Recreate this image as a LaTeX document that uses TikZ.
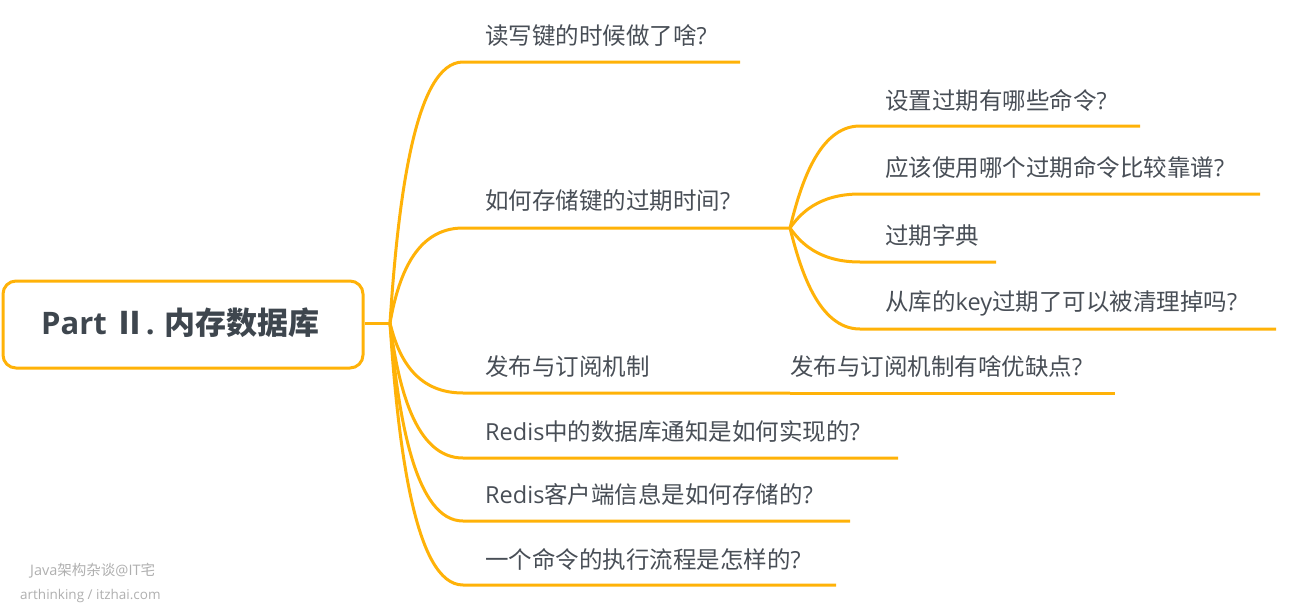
\documentclass[tikz,border=0pt]{standalone}
\usepackage{fontspec}
\setmainfont{Noto Sans CJK SC}
\newfontfamily\latf{Open Sans}
\newcommand\la[1]{{\latf #1}}
\definecolor{brc}{RGB}{255,178,8}
\definecolor{txc}{RGB}{72,78,86}
\definecolor{rootc}{RGB}{62,70,78}
\definecolor{wmc}{RGB}{175,175,175}
\tikzset{
  br/.style={draw=brc,line width=3pt},
  lbl/.style={anchor=west,inner sep=0pt,text=txc,font=\fontsize{23.5}{26}\selectfont},
  rootbox/.style={draw=brc,line width=3pt,rounded corners=13pt,minimum width=360pt,minimum height=87pt,inner sep=0pt},
  wm/.style={anchor=west,inner sep=0pt,text=wmc,font=\fontsize{13.5}{16}\selectfont}
}
\begin{document}
\begin{tikzpicture}[x=1pt,y=-1pt]
\useasboundingbox (0,0) rectangle (1302,608);
% root
\node[rootbox] (root) at (183,324.5) {};
\node[anchor=west,inner sep=0pt,text=rootc,font=\fontsize{31}{34}\selectfont\bfseries] (roottxt) at (41,323) {\la{Part }Ⅱ\la{.} 内存数据库};
\coordinate (hub) at (390,323);
\draw[br] (root.east |- hub) -- (hub);
% main labels
\node[lbl] (t1) at (485,36) {读写键的时候做了啥\la{?}};
\node[lbl] (t2) at (485,201) {如何存储键的过期时间\la{?}};
\node[lbl] (t3) at (485,367) {发布与订阅机制};
\node[lbl] (t4) at (485,432) {\la{Redis}中的数据库通知是如何实现的\la{?}};
\node[lbl] (t5) at (485,495) {\la{Redis}客户端信息是如何存储的\la{?}};
\node[lbl] (t6) at (485,559) {一个命令的执行流程是怎样的\la{?}};
% main underline coordinates
\coordinate (a1) at (463,62);   \coordinate (e1) at (740,62);
\coordinate (a2) at (463,228);  \coordinate (sub) at (790,228);
\coordinate (a3) at (463,393);  \coordinate (e3) at (790,393);
\coordinate (a4) at (463,458);  \coordinate (e4) at (898,458);
\coordinate (a5) at (463,521);  \coordinate (e5) at (850,521);
\coordinate (a6) at (463,585);  \coordinate (e6) at (836,585);
% main branches
\draw[br] (hub) .. controls (398,200) and (415,62) .. (a1) -- (e1);
\draw[br] (hub) .. controls (398,278) and (415,228) .. (a2) -- (sub);
\draw[br] (hub) .. controls (398,356) and (415,393) .. (a3) -- (e3);
\draw[br] (hub) .. controls (398,386) and (415,458) .. (a4) -- (e4);
\draw[br] (hub) .. controls (398,416) and (415,521) .. (a5) -- (e5);
\draw[br] (hub) .. controls (398,446) and (415,585) .. (a6) -- (e6);
% sub labels
\node[lbl] (s1) at (885,100) {设置过期有哪些命令\la{?}};
\node[lbl] (s2) at (885,168) {应该使用哪个过期命令比较靠谱\la{?}};
\node[lbl] (s3) at (885,236) {过期字典};
\node[lbl] (s4) at (885,303) {从库的\la{key}过期了可以被清理掉吗\la{?}};
\coordinate (b1) at (860,126); \coordinate (f1) at (1140,126);
\coordinate (b2) at (860,194); \coordinate (f2) at (1260,194);
\coordinate (b3) at (860,262); \coordinate (f3) at (996,262);
\coordinate (b4) at (860,329); \coordinate (f4) at (1276,329);
\draw[br] (sub) .. controls (800,187) and (818,126) .. (b1) -- (f1);
\draw[br] (sub) .. controls (800,214) and (818,194) .. (b2) -- (f2);
\draw[br] (sub) .. controls (800,242) and (818,262) .. (b3) -- (f3);
\draw[br] (sub) .. controls (800,268) and (818,329) .. (b4) -- (f4);
% pub/sub child
\node[lbl] (p1) at (790,367) {发布与订阅机制有啥优缺点\la{?}};
\coordinate (g1) at (1115,393);
\draw[br] (e3) -- (g1);
% watermark
\node[wm,font=\fontsize{14.5}{16}\selectfont] (w1) at (30,571) {\la{Java}架构杂谈\la{@IT}宅};
\node[wm] (w2) at (20,596) {\la{arthinking / itzhai.com}};
\end{tikzpicture}
\end{document}
